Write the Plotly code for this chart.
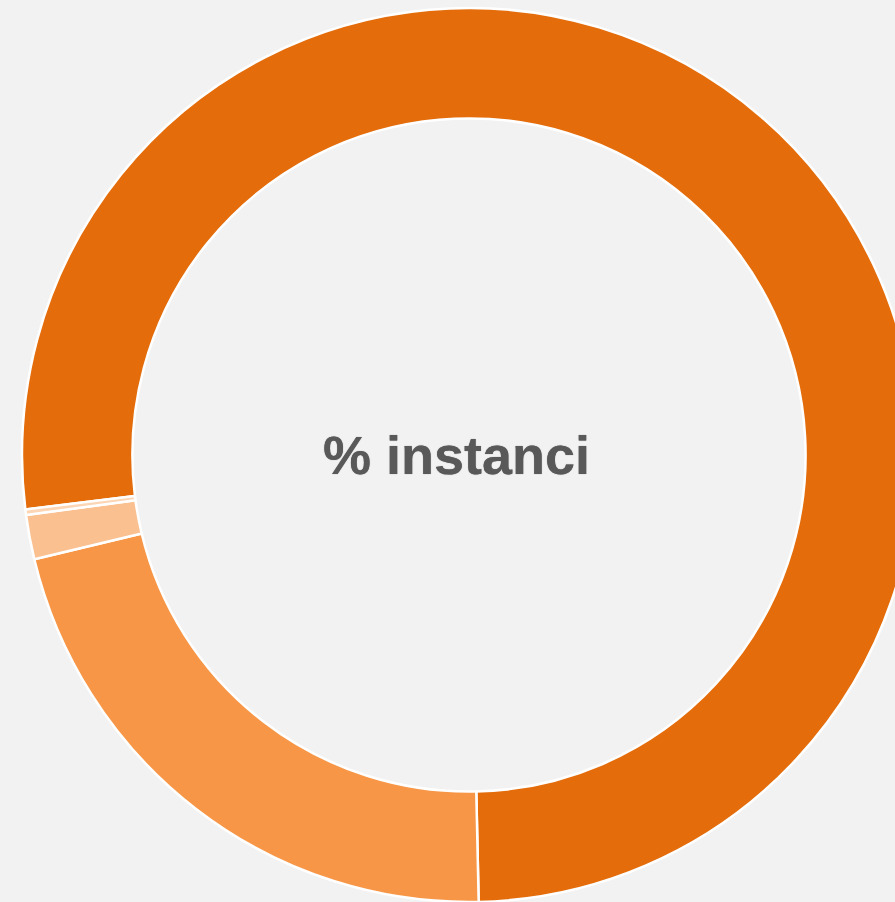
import plotly.graph_objects as go

categories = ["A", "B", "C", "D"]
values = [76.6, 21.6, 1.6, 0.2]
colors = ["#E46C0A", "#F79646", "#FAC090", "#FCD5B5"]
center_label = "% instanci"

fig = go.Figure(go.Pie(
    labels=categories,
    values=values,
    sort=False,
    direction="clockwise",
    rotation=263,
    hole=0.753,
    textinfo="none",
    hoverinfo="label+percent",
    marker=dict(colors=colors, line=dict(color="#FFFFFF", width=2.5)),
    showlegend=False,
))

W, H = 916, 902
L, T = 22, 8
pw, ph = W - L, H - T

fig.add_annotation(
    text="<b>" + center_label + "</b>",
    x=(456 - L) / pw, y=1 - (455 - T) / ph,
    xref="paper", yref="paper", showarrow=False,
    font=dict(family="Liberation Sans, Arial", size=54, color="#595959",
              shadow="0px 0px 0.8px #595959"),
)

fig.update_layout(
    width=W, height=H,
    margin=dict(l=L, r=0, t=T, b=0, pad=0),
    paper_bgcolor="#F2F2F2",
    plot_bgcolor="#F2F2F2",
)

fig.write_html(
    "out.html",
    config={"displayModeBar": False},
    post_script="document.body.style.margin='0';document.body.style.overflow='hidden';document.body.style.background='#F2F2F2';",
)
